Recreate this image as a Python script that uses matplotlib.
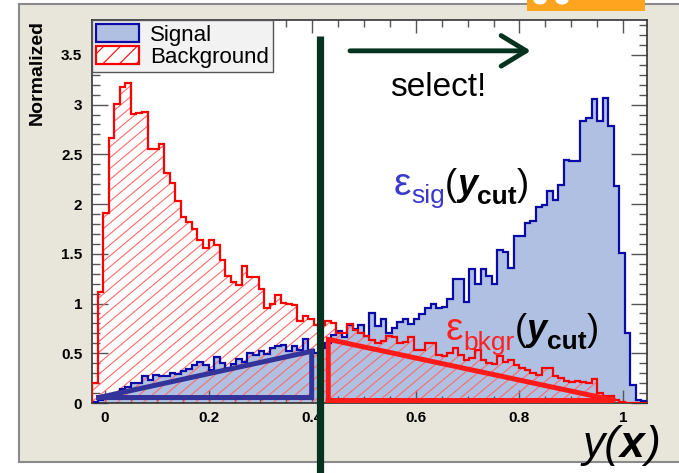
"""TMVA-style classifier output: signal vs background with cut efficiencies."""

import numpy as np
import matplotlib
matplotlib.use("Agg")
import matplotlib.pyplot as plt
from matplotlib.collections import LineCollection
from matplotlib.patches import Rectangle, Circle, Patch
from matplotlib.ticker import MultipleLocator, FuncFormatter
from matplotlib.transforms import IdentityTransform

plt.rcParams["font.family"] = ["Liberation Sans", "DejaVu Sans"]
plt.rcParams["hatch.linewidth"] = 0.8

# histogram binning (100 bins over the full axis range)
X_MIN, X_MAX, N_BINS = -0.0251, 1.0463, 100

signal = [
    0.01, 0.03, 0.05, 0.08, 0.10, 0.14, 0.16, 0.20, 0.20, 0.27,
    0.23, 0.28, 0.27, 0.27, 0.30, 0.29, 0.32, 0.34, 0.38, 0.41,
    0.38, 0.33, 0.46, 0.40, 0.35, 0.39, 0.44, 0.41, 0.50, 0.48,
    0.52, 0.49, 0.55, 0.57, 0.58, 0.52, 0.57, 0.53, 0.64, 0.53,
    0.50, 0.55, 0.60, 0.68, 0.72, 0.66, 0.78, 0.74, 0.78, 0.67,
    0.90, 0.77, 0.84, 0.70, 0.75, 0.81, 0.84, 0.79, 0.84, 0.89,
    0.95, 1.00, 0.95, 0.96, 1.05, 1.25, 1.25, 1.02, 1.35, 1.20,
    1.35, 1.28, 1.20, 1.54, 1.52, 1.36, 1.68, 1.68, 1.81, 1.83,
    1.97, 1.99, 2.13, 2.04, 2.19, 2.44, 2.43, 2.43, 2.83, 2.86,
    3.06, 2.83, 3.07, 2.78, 2.18, 1.51, 0.70, 0.18, 0.03, 0.02,
]

background = [
    0.20, 1.12, 1.91, 2.66, 3.01, 3.18, 3.22, 2.91, 2.92, 2.93,
    2.55, 2.55, 2.60, 2.31, 2.21, 2.03, 1.87, 1.82, 1.75, 1.64,
    1.56, 1.64, 1.59, 1.44, 1.28, 1.22, 1.19, 1.38, 1.27, 1.27,
    1.15, 0.95, 1.00, 1.09, 1.01, 1.00, 0.99, 0.82, 0.87, 0.84,
    0.78, 0.78, 0.82, 0.80, 0.70, 0.70, 0.79, 0.73, 0.70, 0.67,
    0.63, 0.60, 0.62, 0.67, 0.66, 0.60, 0.61, 0.66, 0.53, 0.53,
    0.60, 0.60, 0.48, 0.47, 0.50, 0.55, 0.48, 0.43, 0.45, 0.53,
    0.43, 0.40, 0.39, 0.47, 0.41, 0.43, 0.38, 0.35, 0.33, 0.30,
    0.28, 0.35, 0.35, 0.27, 0.25, 0.22, 0.21, 0.22, 0.21, 0.20,
    0.24, 0.10, 0.07, 0.07, 0.03, 0.01, 0.005, 0.005, 0.0, 0.0,
]

# cut position and the efficiency sketch shapes (data coordinates)
Y_CUT = 0.416
sig_eff_x = [-0.012, 0.399, 0.399, -0.012]
sig_eff_y = [0.055, 0.055, 0.52, 0.055]
bkg_eff_x = [0.431, 0.431, 0.985, 0.431]
bkg_eff_y = [0.025, 0.64, 0.025, 0.025]

SIG_FILL = "#b0c0e2"
SIG_LINE = "#0a0aa8"
BKG_LINE = "#ff0000"
BKG_HATCH = "#ff6a6a"
CUT_GREEN = "#06331f"
BEIGE = "#e8e6da"

W, H = 679, 473
fig = plt.figure(figsize=(W / 100, H / 100), dpi=100)
fig.patch.set_facecolor("white")

# slide frame behind the plot
fig.patches.append(Rectangle((19 / W, 11 / H), 1.0, 458 / H,
                             transform=fig.transFigure, facecolor=BEIGE,
                             edgecolor="#8a8a8a", linewidth=1.5, zorder=-10))
fig.patches.append(Rectangle((527 / W, 462 / H), 118 / W, 11 / H,
                             transform=fig.transFigure, facecolor="#ffa41f",
                             edgecolor="none", zorder=-9))
for cx in (540, 562):
    fig.patches.append(Circle((cx / W, 473 / H), 6.5 / W,
                              transform=fig.transFigure, facecolor="white",
                              edgecolor="none", zorder=-8))

AX_L, AX_B, AX_W, AX_H = 92, 70, 555, 383
ax = fig.add_axes([AX_L / W, AX_B / H, AX_W / W, AX_H / H])
ax.set_facecolor("white")

edges = np.linspace(X_MIN, X_MAX, N_BINS + 1)

ax.stairs(signal, edges, fill=True, facecolor=SIG_FILL, edgecolor="none",
          zorder=1)
bkg_area = ax.stairs(background, edges, fill=True, facecolor="none",
                     edgecolor="none", zorder=2)

# ROOT-like hatch: thin diagonal lines clipped to the background histogram
slope = np.tan(np.radians(40))
rise = AX_H / slope
starts = np.arange(AX_L - rise, AX_L + AX_W, 13.0)
segs = [[(x0, AX_B), (x0 + rise, AX_B + AX_H)] for x0 in starts]
hatch = LineCollection(segs, colors=BKG_HATCH, linewidths=0.8,
                       transform=IdentityTransform(), zorder=2)
ax.add_collection(hatch, autolim=False)
hatch.set_clip_path(bkg_area)

ax.stairs(signal, edges, color=SIG_LINE, linewidth=1.6, zorder=3)
ax.stairs(background, edges, color=BKG_LINE, linewidth=1.6, zorder=4)

ax.plot(sig_eff_x, sig_eff_y, color="#333399", linewidth=3.6,
        solid_joinstyle="miter", zorder=5)
ax.plot(bkg_eff_x, bkg_eff_y, color="#ff1a1a", linewidth=3.6,
        solid_joinstyle="miter", zorder=5)

ax.set_xlim(X_MIN, X_MAX)
ax.set_ylim(0, 3.85)

ax.xaxis.set_major_locator(MultipleLocator(0.2))
ax.xaxis.set_minor_locator(MultipleLocator(0.05))
ax.yaxis.set_major_locator(MultipleLocator(0.5))
ax.yaxis.set_minor_locator(MultipleLocator(0.1))
fmt = FuncFormatter(lambda v, p: f"{v:g}")
ax.xaxis.set_major_formatter(fmt)
ax.yaxis.set_major_formatter(fmt)

ax.tick_params(which="both", direction="in", top=True, right=True,
               color="#555555", width=1.0)
ax.tick_params(axis="x", which="major", length=9.5, pad=6)
ax.tick_params(axis="x", which="minor", length=5)
ax.tick_params(axis="y", which="major", length=11.5, pad=7)
ax.tick_params(axis="y", which="minor", length=5.5)
for lab in ax.get_xticklabels() + ax.get_yticklabels():
    lab.set_fontsize(11)
    lab.set_fontweight("bold")
for sp in ax.spines.values():
    sp.set_color("#333333")
    sp.set_linewidth(1.2)

ax.set_ylabel("Normalized", fontsize=14, fontweight="bold", loc="top")
ax.yaxis.set_label_coords(-0.084, 1.0)

handles = [
    Patch(facecolor=SIG_FILL, edgecolor=SIG_LINE, linewidth=1.6),
    Patch(facecolor="white", edgecolor=BKG_LINE, hatch="//", linewidth=1.6),
]
leg = ax.legend(handles, ["Signal", "Background"], loc="upper left",
                bbox_to_anchor=(0, 1), borderaxespad=0, fancybox=False,
                facecolor="#f2f2f2", edgecolor="#555555", framealpha=1,
                fontsize=16, handlelength=1.9, handleheight=0.85,
                handletextpad=0.5, borderpad=0.2, labelspacing=0.0)
leg.get_frame().set_linewidth(1.0)
leg.set_zorder(6)

# cut line and selection arrow
ax.plot([Y_CUT, Y_CUT], [3.69, -0.75], color=CUT_GREEN, linewidth=5.2,
        solid_capstyle="butt", clip_on=False, zorder=7)
ax.annotate("", xy=(0.822, 3.54), xytext=(0.473, 3.54),
            arrowprops=dict(arrowstyle="->,head_length=0.9,head_width=0.55",
                            color=CUT_GREEN, linewidth=3.5, mutation_scale=20,
                            shrinkA=0, shrinkB=0))
ax.text(0.643, 3.09, "select!", fontsize=24, ha="center", va="baseline")


def rainbow(ax, x, y, pieces, coords="data"):
    """Place text pieces one after another on a common baseline."""
    prev = None
    for s, size, color, weight, style, dy in pieces:
        kw = dict(fontsize=size, color=color, fontweight=weight,
                  fontstyle=style, va="baseline", ha="left",
                  annotation_clip=False, zorder=8)
        if prev is None:
            prev = ax.annotate(s, xy=(x, y), xycoords=coords,
                               xytext=(0, dy), textcoords="offset points", **kw)
        else:
            prev = ax.annotate(s, xy=(1, y), xycoords=(prev, coords),
                               xytext=(0, dy), textcoords="offset points", **kw)
    return prev


blue_t, red_t = "#3a3acc", "#ff2020"
rainbow(ax, 0.558, 2.09, [
    ("ε", 28, blue_t, "normal", "normal", 0),
    ("sig", 19, blue_t, "normal", "normal", -6),
    ("(", 26, "black", "normal", "normal", 0),
    ("y", 26, "black", "bold", "italic", 0),
    ("cut", 19, "black", "bold", "normal", -6.5),
    (")", 26, "black", "normal", "normal", 0),
])
rainbow(ax, 0.658, 0.63, [
    ("ε", 28, red_t, "normal", "normal", 0),
    ("bkgr", 19, red_t, "normal", "normal", -7),
    ("(", 26, "black", "normal", "normal", 0),
    ("y", 26, "black", "bold", "italic", 0),
    ("cut", 19, "black", "bold", "normal", -6.5),
    (")", 26, "black", "normal", "normal", 0),
])

# axis title in the lower right corner
rainbow(ax, 583, 16, [
    ("y(", 32, "black", "normal", "italic", 0),
    ("x", 32, "black", "bold", "italic", 0),
    (")", 32, "black", "normal", "italic", 0),
], coords="figure pixels")

fig.savefig("out.png", dpi=100)
